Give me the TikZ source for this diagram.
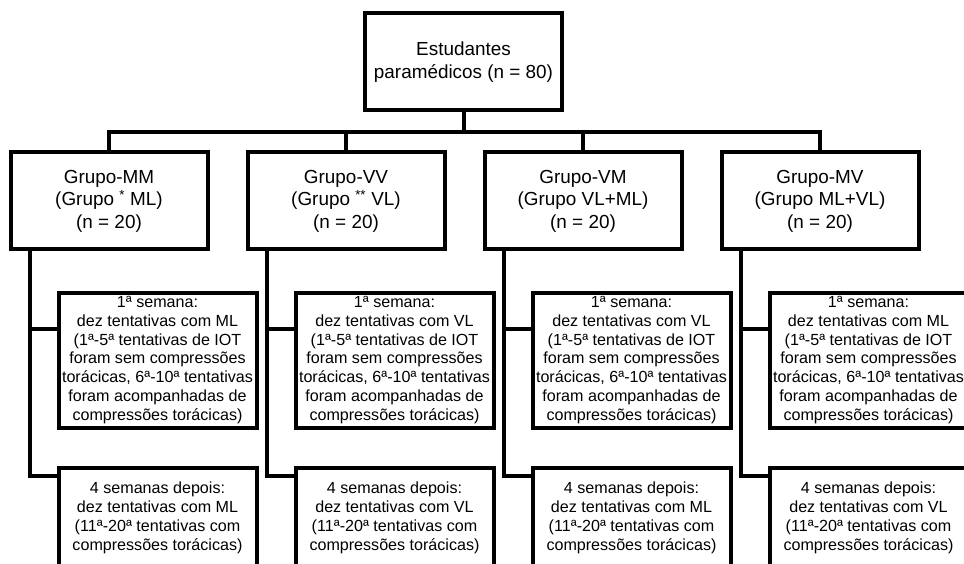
\documentclass[tikz,border=0pt]{standalone}
\usepackage{fontspec}
\setmainfont{Liberation Sans}
\usepackage{tikz}
\usetikzlibrary{calc}
\tikzset{
  groupbox/.style={draw, line width=4pt, minimum width=197pt, minimum height=97pt, inner sep=0pt, align=center, font=\fontsize{18.9}{22.5}\selectfont},
  weekbox/.style={draw, line width=4pt, minimum width=198pt, minimum height=135pt, inner sep=0pt, align=center, font=\fontsize{16.1}{18.8}\selectfont},
  link/.style={line width=4pt}
}

\begin{document}
\begin{tikzpicture}[x=1pt, y=-1pt]
  \useasboundingbox (0,0) rectangle (964,564);
  \clip (0,0) rectangle (964,564);
  % top
  \node[groupbox] (top) at (463.5,62) {Estudantes\\paramédicos (n = 80)};
  \coordinate (bar) at (463.5,132);
  % groups
  \node[groupbox] (mm) at (109,201) {Grupo-MM\\(Grupo \textsuperscript{*} ML)\\(n = 20)};
  \node[groupbox] (vv) at (346,201) {Grupo-VV\\(Grupo \textsuperscript{**} VL)\\(n = 20)};
  \node[groupbox] (vm) at (583,201) {Grupo-VM\\(Grupo VL+ML)\\(n = 20)};
  \node[groupbox] (mv) at (820,201) {Grupo-MV\\(Grupo ML+VL)\\(n = 20)};
  % first week
  \node[weekbox] (w1mm) at (157.5,360) {1ª semana:\\dez tentativas com ML\\(1ª-5ª tentativas de IOT\\foram sem compressões\\torácicas, 6ª-10ª tentativas\\foram acompanhadas de\\compressões torácicas)};
  \node[weekbox] (w1vv) at (394.5,360) {1ª semana:\\dez tentativas com VL\\(1ª-5ª tentativas de IOT\\foram sem compressões\\torácicas, 6ª-10ª tentativas\\foram acompanhadas de\\compressões torácicas)};
  \node[weekbox] (w1vm) at (631.5,360) {1ª semana:\\dez tentativas com VL\\(1ª-5ª tentativas de IOT\\foram sem compressões\\torácicas, 6ª-10ª tentativas\\foram acompanhadas de\\compressões torácicas)};
  \node[weekbox] (w1mv) at (868.5,360) {1ª semana:\\dez tentativas com ML\\(1ª-5ª tentativas de IOT\\foram sem compressões\\torácicas, 6ª-10ª tentativas\\foram acompanhadas de\\compressões torácicas)};
  % four weeks later
  \node[weekbox, minimum height=100pt] (w4mm) at (157.5,518) {4 semanas depois:\\dez tentativas com ML\\(11ª-20ª tentativas com\\compressões torácicas)};
  \node[weekbox, minimum height=100pt] (w4vv) at (394.5,518) {4 semanas depois:\\dez tentativas com VL\\(11ª-20ª tentativas com\\compressões torácicas)};
  \node[weekbox, minimum height=100pt] (w4vm) at (631.5,518) {4 semanas depois:\\dez tentativas com ML\\(11ª-20ª tentativas com\\compressões torácicas)};
  \node[weekbox, minimum height=100pt] (w4mv) at (868.5,518) {4 semanas depois:\\dez tentativas com VL\\(11ª-20ª tentativas com\\compressões torácicas)};
  % connectors
  \draw[link] (top.south) -- (bar);
  \foreach \g in {mm,vv,vm,mv} {
    \draw[link] (\g.north) |- (bar);
    \coordinate (s\g) at ([xshift=21pt]\g.south west);
    \coordinate (a\g) at ([yshift=-38pt]w1\g.north west);
    \coordinate (b\g) at ([yshift=-10pt]w4\g.north west);
    \draw[link] (s\g) |- (b\g);
    \draw[link] (s\g |- a\g) -- (a\g);
  }
\end{tikzpicture}
\end{document}
